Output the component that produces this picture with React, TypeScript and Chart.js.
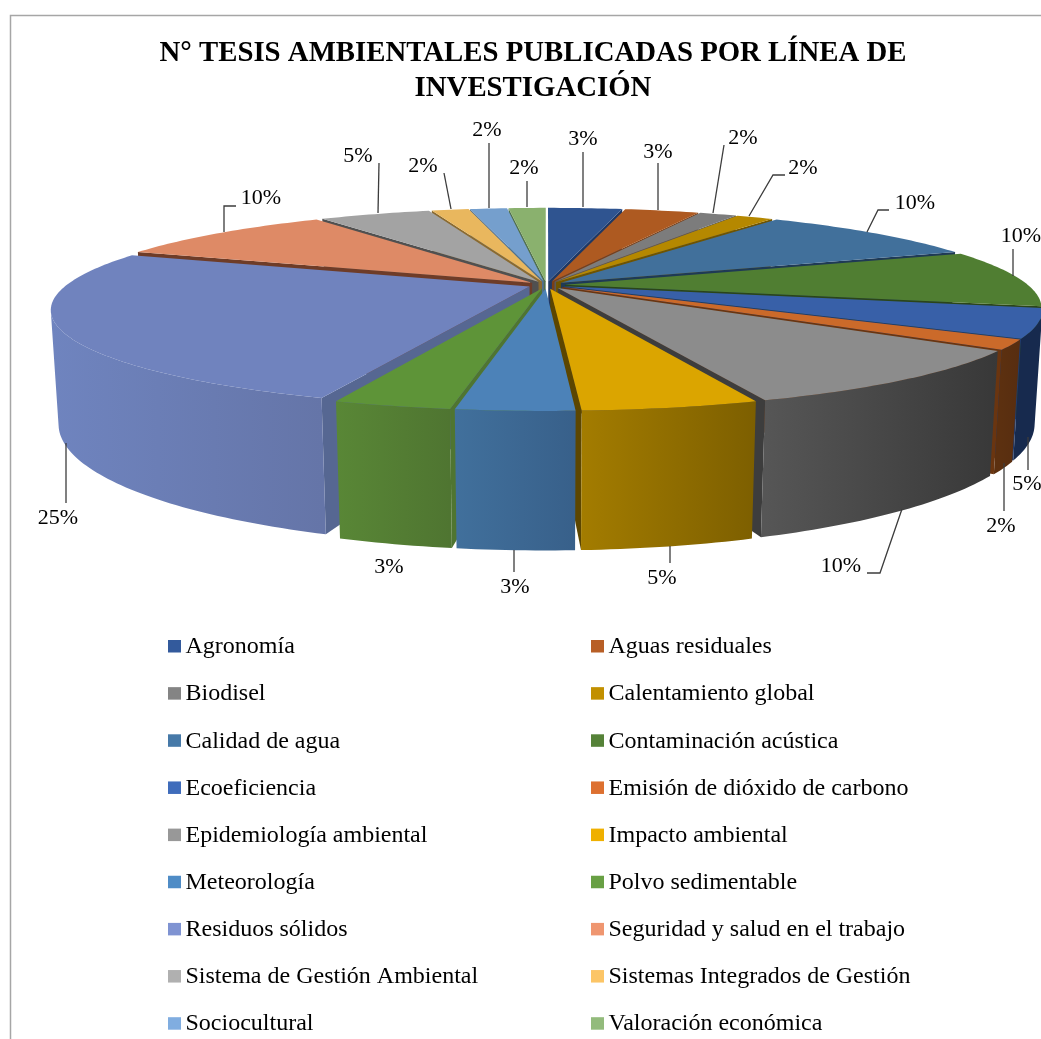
import React, { useEffect, useRef } from "react";
import { Chart, registerables } from "chart.js";

Chart.register(...registerables);

const TITLE_LINES = ["N° TESIS AMBIENTALES PUBLICADAS POR LÍNEA DE", "INVESTIGACIÓN"];

const categories = [
  "Agronomía", "Aguas residuales", "Biodisel", "Calentamiento global", "Calidad de agua",
  "Contaminación acústica", "Ecoeficiencia", "Emisión de dióxido de carbono",
  "Epidemiología ambiental", "Impacto ambiental", "Meteorología", "Polvo sedimentable",
  "Residuos sólidos", "Seguridad y salud en el trabajo", "Sistema de Gestión Ambiental",
  "Sistemas Integrados de Gestión", "Sociocultural", "Valoración económica",
];

const thesisCounts = [2, 2, 1, 1, 6, 6, 3, 1, 6, 3, 2, 2, 16, 6, 3, 1, 1, 1];

const topColors = [
  "#2f5490", "#ae5a21", "#7c7c7c", "#b58800", "#41709b", "#507e32", "#3860a8", "#cb6a2a", "#8c8c8c",
  "#dba500", "#4c82b8", "#5e9438", "#7083be", "#de8a66", "#a3a3a3", "#e9b75e", "#759fcd", "#8ab16e",
];
const legendColors = [
  "#335a9c", "#b85f26", "#848484", "#c29000", "#4679a8", "#558238", "#3f6cbb", "#dd7030", "#989898",
  "#efb000", "#4f8cc6", "#68a044", "#7f93d2", "#ef9670", "#b0b0b0", "#fcc566", "#80ade0", "#93bb7c",
];
const wallStart = [
  "#1f3864", "#7a3f17", "#585858", "#7f6000", "#2e4f6e", "#385823", "#172a4e", "#5c3010", "#565656",
  "#a37c00", "#41709c", "#598736", "#6f84bf", "#9c6048", "#707070", "#a38040", "#527090", "#607c4c",
];
const wallEnd = [
  "#1f3864", "#7a3f17", "#585858", "#7f6000", "#2e4f6e", "#385823", "#172a4e", "#572d10", "#383838",
  "#7d5f00", "#38608a", "#4f7531", "#6575a8", "#9c6048", "#707070", "#a38040", "#527090", "#607c4c",
];
const radialWalls = [
  "#1f3864", "#7a3f17", "#585858", "#6f5400", "#1f3a55", "#2b4519", "#1f3a70", "#6a3510", "#3d3d3d",
  "#5c4600", "#38608a", "#4f7531", "#566792", "#6e3c28", "#505050", "#8a6a30", "#507090", "#50704c",
];

// Where each percentage label sits and how its leader line runs, in page pixels.
const labelCentres: [number, number][] = [
  [583, 139], [658, 152], [743, 138], [803, 168], [915, 203], [1021, 236], [1027, 484], [1001, 526], [841, 566],
  [662, 578], [515, 587], [389, 567], [58, 518], [261, 198], [358, 156], [423, 166], [487, 130], [524, 168],
];
const leaders: [number, number][][] = [
  [[583, 152], [583, 207]],
  [[658, 163], [658, 210]],
  [[724, 145], [713, 213]],
  [[785, 175], [773, 175], [749, 216]],
  [[889, 210], [878, 210], [867, 232]],
  [[1013, 249], [1013, 276]],
  [[1028, 437], [1028, 470]],
  [[1004, 463], [1004, 511]],
  [[867, 573], [880, 573], [902, 509]],
  [[670, 546], [670, 563]],
  [[514, 550], [514, 572]],
  [],
  [[66, 443], [66, 503]],
  [[236, 206], [224, 206], [224, 232]],
  [[379, 163], [378, 213]],
  [[444, 173], [451, 209]],
  [[489, 143], [489, 208]],
  [[527, 181], [527, 207]],
];

// Perspective model of the tilted disc.
const CX = 546.5, CY = 285, RX = 463, KY = 92, DEPTH = 110, PERSP = 0.231, PERSP_Z = 0.015, EXPLODE = 0.04;

type Pt = [number, number];

function project(u: number, v: number, z: number): Pt {
  const s = 1 / (1 - PERSP * v + PERSP_Z * z);
  return [CX + RX * u * s, CY + (KY * v + DEPTH * z) * s];
}

function area(pts: Pt[]) {
  let a = 0;
  pts.forEach((p, i) => {
    const q = pts[(i + 1) % pts.length];
    a += p[0] * q[1] - q[0] * p[1];
  });
  return a;
}

function fillPolys(ctx: CanvasRenderingContext2D, polys: Pt[][], fill: string | CanvasGradient) {
  ctx.beginPath();
  polys.forEach((pts) => {
    pts.forEach((p, i) => (i ? ctx.lineTo(p[0], p[1]) : ctx.moveTo(p[0], p[1])));
    ctx.closePath();
  });
  ctx.fillStyle = fill;
  ctx.fill();
}

const pie3d = {
  id: "pie3d",
  beforeDatasetsDraw(chart: any) {
    const ctx: CanvasRenderingContext2D = chart.ctx;
    const arcs = chart.getDatasetMeta(0).data as any[];
    const order = arcs
      .map((el, i) => ({ el, i, mid: (el.startAngle + el.endAngle) / 2 }))
      .sort((a, b) => Math.sin(a.mid) - Math.sin(b.mid));
    ctx.save();
    for (const { el, i, mid } of order) {
      const ox = EXPLODE * Math.cos(mid), oy = EXPLODE * Math.sin(mid);
      const steps = Math.max(2, Math.ceil(((el.endAngle - el.startAngle) * 180) / Math.PI));
      const rim: Pt[] = [];
      for (let k = 0; k <= steps; k++) {
        const a = el.startAngle + ((el.endAngle - el.startAngle) * k) / steps;
        rim.push([Math.cos(a) + ox, Math.sin(a) + oy]);
      }
      const top = rim.map(([u, v]) => project(u, v, 0));
      const bottom = rim.map(([u, v]) => project(u, v, 1));
      const apexTop = project(ox, oy, 0), apexBottom = project(ox, oy, 1);

      const startWall: Pt[] = [apexTop, top[0], bottom[0], apexBottom];
      const endWall: Pt[] = [apexTop, top[steps], bottom[steps], apexBottom];
      if (area(startWall) < 0) fillPolys(ctx, [startWall], radialWalls[i]);
      if (area(endWall) > 0) fillPolys(ctx, [endWall], radialWalls[i]);

      const xs = top.map((p) => p[0]);
      const grad = ctx.createLinearGradient(Math.min(...xs), 0, Math.max(...xs), 0);
      grad.addColorStop(0, wallStart[i]);
      grad.addColorStop(1, wallEnd[i]);
      const quads: Pt[][] = [];
      for (let k = 0; k < steps; k++) {
        const quad: Pt[] = [top[k], top[k + 1], bottom[k + 1], bottom[k]];
        if (area(quad) < 0) quads.push(quad);
      }
      if (quads.length) fillPolys(ctx, quads, grad);

      fillPolys(ctx, [[apexTop, ...top]], el.options.backgroundColor);
    }
    ctx.restore();
    return false;
  },
  afterDraw(chart: any) {
    const ctx: CanvasRenderingContext2D = chart.ctx;
    const total = thesisCounts.reduce((a, b) => a + b, 0);
    ctx.save();
    // frame of the chart, cut by the page on the right and bottom
    ctx.strokeStyle = "#a6a6a6";
    ctx.lineWidth = 1.5;
    ctx.beginPath();
    ctx.moveTo(10.5, 1039);
    ctx.lineTo(10.5, 15.5);
    ctx.lineTo(1066, 15.5);
    ctx.stroke();

    // leader lines
    ctx.strokeStyle = "#3c3c3c";
    ctx.lineWidth = 1.3;
    leaders.forEach((line) => {
      if (!line.length) return;
      ctx.beginPath();
      line.forEach((p, i) => (i ? ctx.lineTo(p[0], p[1]) : ctx.moveTo(p[0], p[1])));
      ctx.stroke();
    });

    // percentage labels
    ctx.fillStyle = "#000";
    ctx.font = '22px "Liberation Serif"';
    ctx.textAlign = "center";
    ctx.textBaseline = "middle";
    thesisCounts.forEach((n, i) => {
      ctx.fillText(`${Math.round((n / total) * 100)}%`, labelCentres[i][0], labelCentres[i][1]);
    });

    // two-column legend
    ctx.textAlign = "left";
    ctx.font = '24px "Liberation Serif"';
    categories.forEach((name, i) => {
      const col = i % 2, row = Math.floor(i / 2);
      const y = 640 + row * 47.15;
      const x = col ? 591 : 168;
      ctx.fillStyle = legendColors[i];
      ctx.fillRect(x, y, 13, 12.5);
      ctx.fillStyle = "#000";
      ctx.fillText(name, x + 17.5, y + 7);
    });
    ctx.restore();
  },
};

export default function App() {
  const ref = useRef<HTMLCanvasElement>(null);
  useEffect(() => {
    const chart = new Chart(ref.current as HTMLCanvasElement, {
      type: "pie",
      data: {
        labels: categories,
        datasets: [{ data: thesisCounts, backgroundColor: topColors, borderWidth: 0 }],
      },
      options: {
        animation: false,
        responsive: false,
        devicePixelRatio: 1,
        plugins: {
          legend: { display: false },
          tooltip: { enabled: false },
          title: {
            display: true,
            text: TITLE_LINES,
            color: "#000",
            font: { family: '"Liberation Serif"', size: 28.8, weight: "bold", lineHeight: 35 / 28.8 },
            padding: { top: 36, bottom: 0 },
          },
        },
      },
      plugins: [pie3d],
    } as any);
    return () => chart.destroy();
  }, []);
  return (
    <div style={{ position: "fixed", left: 0, top: 0, width: 1041, height: 1039, overflow: "hidden", background: "#fff" }}>
      <canvas ref={ref} width={1066} height={1039} style={{ display: "block", width: 1066, height: 1039 }} />
    </div>
  );
}
